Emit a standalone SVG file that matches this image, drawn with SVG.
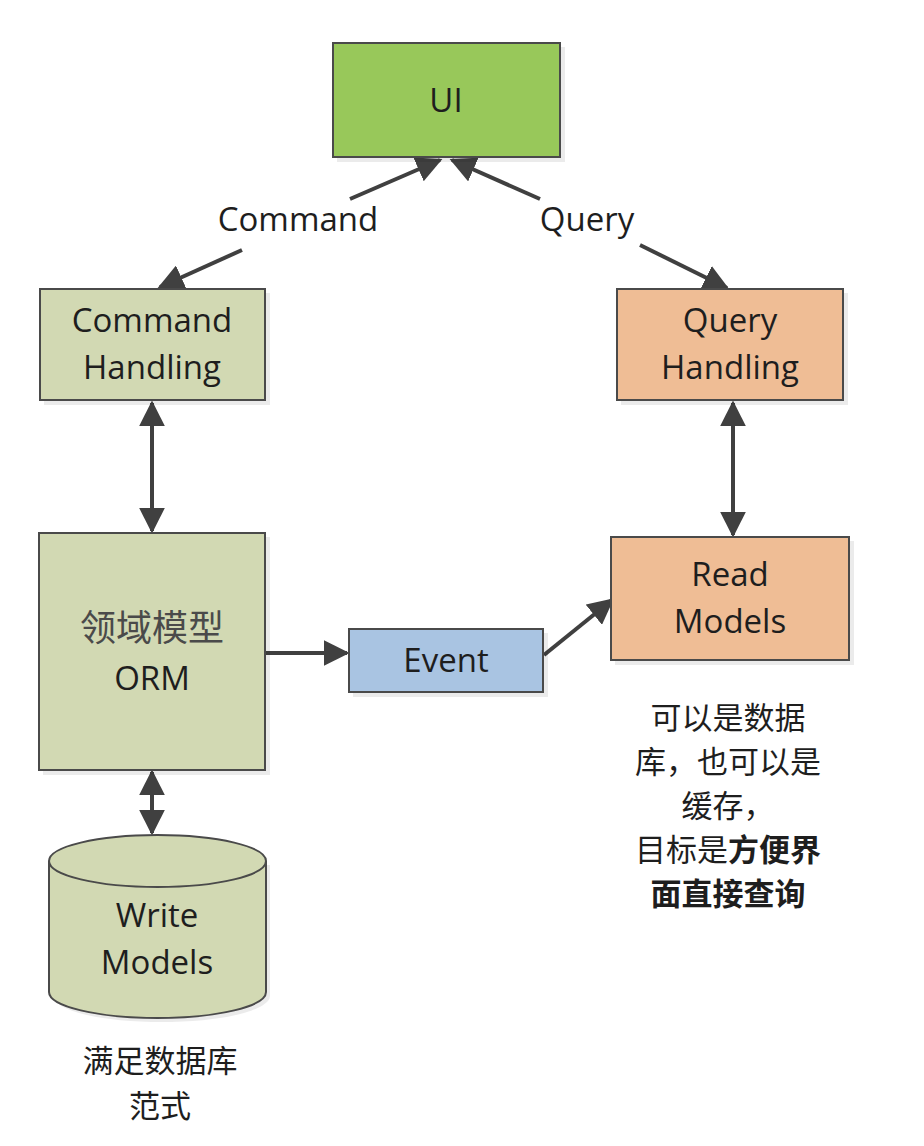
<svg xmlns="http://www.w3.org/2000/svg" width="924" height="1146" viewBox="0 0 924 1146">
<style>
.box{stroke:#4a4a4a;stroke-width:2}
.green{fill:#98c85a}
.olive{fill:#d2d9b3}
.orange{fill:#efbd95}
.blue{fill:#a9c4e2}
.t{font-family:"Open Sans","Liberation Sans",sans-serif;font-size:33px;fill:#1e1e1e;text-anchor:middle}
.cn{font-family:"Noto Sans CJK SC",sans-serif;font-size:31px;fill:#1e1e1e;text-anchor:middle}
.cnm{font-family:"Noto Sans CJK SC",sans-serif;font-size:36px;fill:#4a4a4a;text-anchor:middle}
.c{stroke:#404040;stroke-width:4;fill:none}
.sh{fill:#000;opacity:0.08}
</style>
<defs>
<marker id="ah" viewBox="0 0 10 10" refX="9" refY="5" markerWidth="6.5" markerHeight="6.5" orient="auto-start-reverse" markerUnits="strokeWidth">
<path d="M0,0 L10,5 L0,10 Z" fill="#404040"/>
</marker>
</defs>
<rect width="924" height="1146" fill="#ffffff"/>
<g id="connectors">
<line class="c" x1="350" y1="199" x2="440" y2="160" marker-end="url(#ah)"/>
<line class="c" x1="242" y1="250" x2="160" y2="287" marker-end="url(#ah)"/>
<line class="c" x1="540" y1="199" x2="452" y2="160" marker-end="url(#ah)"/>
<line class="c" x1="640" y1="245" x2="727" y2="288" marker-end="url(#ah)"/>
<line class="c" x1="152" y1="403" x2="152" y2="531" marker-start="url(#ah)" marker-end="url(#ah)"/>
<line class="c" x1="733" y1="403" x2="733" y2="535" marker-start="url(#ah)" marker-end="url(#ah)"/>
<line class="c" x1="152" y1="772" x2="152" y2="833" marker-start="url(#ah)" marker-end="url(#ah)"/>
<line class="c" x1="266" y1="653" x2="347" y2="653" marker-end="url(#ah)"/>
<line class="c" x1="544" y1="655" x2="612" y2="600" marker-end="url(#ah)"/>
</g>
<g id="labels">
<text class="t" x="298" y="231">Command</text>
<text class="t" x="587" y="231">Query</text>
</g>
<g id="ui">
<rect class="sh" x="337" y="47" width="228" height="115"/>
<rect class="box green" x="333" y="43" width="227" height="114"/>
<text class="t" x="446" y="112">UI</text>
</g>
<g id="command-handling">
<rect class="sh" x="44" y="293" width="226" height="112"/>
<rect class="box olive" x="40" y="289" width="225" height="111"/>
<text class="t" x="152" y="332">Command</text>
<text class="t" x="152" y="379">Handling</text>
</g>
<g id="query-handling">
<rect class="sh" x="621" y="293" width="227" height="112"/>
<rect class="box orange" x="617" y="289" width="226" height="111"/>
<text class="t" x="730" y="332">Query</text>
<text class="t" x="730" y="379">Handling</text>
</g>
<g id="domain-model">
<rect class="sh" x="43" y="537" width="227" height="238"/>
<rect class="box olive" x="39" y="533" width="226" height="237"/>
<text class="cnm" x="152" y="641">领域模型</text>
<text class="t" x="152" y="690">ORM</text>
</g>
<g id="event">
<rect class="sh" x="353" y="633" width="195" height="64"/>
<rect class="box blue" x="349" y="629" width="194" height="63"/>
<text class="t" x="446" y="672">Event</text>
</g>
<g id="read-models">
<rect class="sh" x="615" y="541" width="239" height="124"/>
<rect class="box orange" x="611" y="537" width="238" height="123"/>
<text class="t" x="730" y="586">Read</text>
<text class="t" x="730" y="633">Models</text>
</g>
<g id="write-models">
<path class="sh" d="M53,865 L53,996 A108,26 0 0 0 270,996 L270,865 Z"/>
<path class="box olive" d="M49,861 L49,992 A108.5,26 0 0 0 266,992 L266,861 A108.5,26 0 0 0 49,861 Z"/>
<path class="box" fill="none" d="M49,861 A108.5,26 0 0 0 266,861"/>
<text class="t" x="157" y="927">Write</text>
<text class="t" x="157" y="974">Models</text>
</g>
<g id="note-left">
<text class="cn" x="160" y="1072">满足数据库</text>
<text class="cn" x="160" y="1117">范式</text>
</g>
<g id="note-right">
<text class="cn" x="728" y="729">可以是数据</text>
<text class="cn" x="728" y="773">库，也可以是</text>
<text class="cn" x="728" y="817">缓存，</text>
<text class="cn" x="728" y="861">目标是<tspan font-weight="bold">方便界</tspan></text>
<text class="cn" x="728" y="905" font-weight="bold">面直接查询</text>
</g>
</svg>
